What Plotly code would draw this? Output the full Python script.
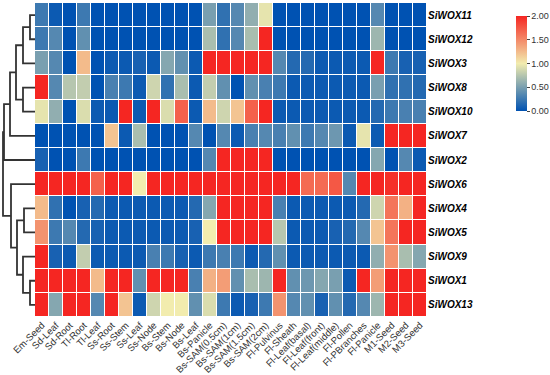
import plotly.graph_objects as go

tissues = ["Em-Seed", "Sd-Leaf", "Sd-Root", "Tl-Root", "Tl-Leaf", "Ss-Root", "Ss-Stem",
           "Ss-Leaf", "Ss-Node", "Bs-Stem", "Bs-Node", "Bs-Leaf", "Bs-Panicle",
           "Bs-SAM(0.5cm)", "Bs-SAM(1cm)", "Bs-SAM(1.5cm)", "Bs-SAM(2cm)", "Fl-Pulvinus",
           "Fl-Sheath", "Fl-Leaf(basal)", "Fl-Leaf(front)", "Fl-Leaf(middle)", "Fl-Pollen",
           "Fl-PBranches", "Fl-Panicle", "M1-Seed", "M2-Seed", "M3-Seed"]

genes = ["SiWOX11", "SiWOX12", "SiWOX3", "SiWOX8", "SiWOX10", "SiWOX7", "SiWOX2",
         "SiWOX6", "SiWOX4", "SiWOX5", "SiWOX9", "SiWOX1", "SiWOX13"]

wox11 = [0.25, 0.05, 0, 0.25, 0, 0, 0, 0, 0, 0, 0, 0, 0.5, 0.2,
         0.35, 0.6, 0.95, 0, 0, 0, 0, 0, 0, 0, 0.35, 0, 0, 0]
wox12 = [0.25, 0.35, 0, 0.4, 0, 0, 0, 0, 0, 0, 0, 0, 0.7, 0.2,
         0.35, 0.7, 2.0, 0, 0, 0, 0, 0, 0, 0, 0.65, 0, 0, 0]
wox3 = [0.5, 0.35, 0, 1.25, 0, 0.05, 0.05, 0.1, 0.05, 0.55, 0.4, 0.05, 2, 2,
        2, 2, 2, 0.35, 0.15, 0.15, 0.05, 0.05, 0.05, 0.05, 2, 0.25, 0.1, 0.1]
wox8 = [2, 0.35, 0.75, 0.8, 0, 0.3, 0.25, 0.05, 0.85, 0.2, 0.7, 0.05, 0.8, 0.4,
        0, 0.4, 0.3, 0.25, 0.05, 0.05, 0.05, 0.05, 0.05, 0.05, 0.5, 0.2, 0.2, 0.15]
wox10 = [0.95, 0.6, 0, 0.9, 0.05, 0.05, 2, 0.05, 2, 0.9, 1.7, 0.05, 1.25, 0.85,
         1.2, 1.7, 2, 0.05, 0.05, 0.05, 0.05, 0.05, 0.05, 0.05, 0.15, 0.25, 0.3, 0.3]
wox7 = [0, 0, 0, 0, 0, 1.2, 0.05, 0.7, 0, 0, 0, 0.35, 0, 0.35,
        0.05, 0.3, 0.35, 0.3, 0.4, 0.25, 0.35, 0.45, 0.05, 0.95, 0.05, 2, 2, 2]
wox2 = [0.1, 0, 0, 0.25, 0, 0, 0, 0, 0, 0, 0, 0, 0.35, 2,
        2, 2, 2, 0, 0, 0, 0, 0, 0, 0, 0.55, 0, 0.35, 0.05]
wox6 = [2, 2, 2, 2, 1.7, 2, 2, 1.0, 2, 2, 2, 2, 2, 2,
        2, 2, 2, 2, 2, 1.65, 1.65, 1.75, 0.35, 2, 2, 1.95, 2, 2]
wox4 = [1.25, 0.2, 0, 0.1, 0.15, 0.05, 0.05, 0.05, 0.05, 0.05, 0.05, 0.15, 0.55, 2,
        2, 2, 2, 0.3, 0.05, 0.05, 0.05, 0.05, 0.05, 0.15, 0.85, 1.6, 1.3, 2]
wox5 = [1.45, 0.25, 0.35, 0.15, 0.1, 0.05, 0.05, 0.05, 0.05, 0.05, 0.05, 0.1, 1.0, 2,
        2, 2, 2, 0.75, 0.05, 0.05, 0.05, 0.1, 0.15, 0.35, 1.2, 1.6, 2, 2]
wox9 = [2, 0.1, 0.05, 0.8, 0.05, 0.05, 0.05, 0.05, 0.3, 0.25, 0.1, 0.05, 0.25, 0.3,
        0.25, 0.05, 0.15, 0.4, 0.05, 0.05, 0.05, 0.05, 0.05, 0.05, 0.6, 1.45, 0.7, 0.55]
wox1 = [2, 2, 2, 2, 1.25, 2, 2, 0.4, 2, 2, 2, 0.3, 1.3, 1.4,
        0.4, 0.7, 0.65, 2, 0.4, 0.45, 0.55, 0.5, 0.05, 2, 1.4, 2, 2, 2]
wox13 = [2, 0.55, 2, 2, 0.35, 2, 1.2, 0.05, 0.85, 1.0, 1.0, 0.4, 0.9, 0.25,
         0.05, 0.1, 0.25, 1.45, 0.35, 0.4, 0.1, 0.4, 0.15, 0.35, 0.65, 2, 2, 2]

z = [wox11, wox12, wox3, wox8, wox10, wox7, wox2, wox6, wox4, wox5, wox9, wox1, wox13]

# Dendrogram merges: (child_a, child_b, height); leaves are row indices 0..12,
# each merge creates node 13, 14, ...
merges = [(0, 1, 5), (13, 2, 12), (3, 4, 12), (14, 15, 19), (16, 5, 25), (17, 6, 31),
          (8, 9, 11), (11, 12, 5), (10, 20, 12), (19, 21, 18), (7, 22, 24), (18, 23, 32)]

colorbar_ticks = [0, 0.5, 1.0, 1.5, 2.0]
zmin, zmax = 0, 2.0

W, H = 550, 375
hm_left, hm_right, hm_top, hm_bottom = 35, 427, 3, 317

# dendrogram coordinates
node_y = {i: float(i) for i in range(len(genes))}
node_h = {i: 0.0 for i in range(len(genes))}
dx, dy = [], []
for k, (a, b, h) in enumerate(merges):
    nid = len(genes) + k
    dx += [node_h[a], h, h, node_h[b], None]
    dy += [node_y[a], node_y[a], node_y[b], node_y[b], None]
    node_y[nid] = (node_y[a] + node_y[b]) / 2
    node_h[nid] = h

colorscale = [[0.0, "rgb(0,82,178)"], [0.5, "rgb(242,236,174)"], [1.0, "rgb(245,38,34)"]]

# keep the top tick just inside the bar range so plotly does not drop it
cb_tickvals = [min(v, zmax - 1e-4) for v in colorbar_ticks]
cb_ticktext = ["%.2f" % v for v in colorbar_ticks]

fig = go.Figure()
fig.add_trace(go.Heatmap(
    z=z, x=list(range(len(tissues))), y=list(range(len(genes))),
    zmin=zmin, zmax=zmax, colorscale=colorscale, xgap=1, ygap=1,
    colorbar=dict(x=516 / W, xanchor="left", y=1 - 63.5 / H, yanchor="middle",
                  len=95 / H, lenmode="fraction", thickness=11, xpad=0, ypad=0,
                  outlinewidth=0, tickvals=cb_tickvals, ticktext=cb_ticktext,
                  ticks="outside", ticklen=3, tickcolor="#444",
                  tickfont=dict(size=9, color="#333", family="Liberation Sans, Arial")),
))
fig.add_trace(go.Scatter(x=dx, y=dy, xaxis="x2", yaxis="y", mode="lines",
                         line=dict(color="#333333", width=1.8), hoverinfo="skip",
                         showlegend=False))

fig.update_layout(
    width=W, height=H, margin=dict(l=0, r=0, t=0, b=0),
    paper_bgcolor="white", plot_bgcolor="white", showlegend=False,
    font=dict(family="Liberation Sans, Arial"),
    xaxis=dict(domain=[hm_left / W, hm_right / W], range=[-0.5, len(tissues) - 0.5],
               tickvals=list(range(len(tissues))), ticktext=tissues, tickangle=-45,
               tickfont=dict(size=9.5, color="#333"), showgrid=False, zeroline=False,
               ticks="", automargin=False, anchor="y"),
    yaxis=dict(domain=[1 - hm_bottom / H, 1 - hm_top / H], range=[len(genes) - 0.5, -0.5],
               tickvals=list(range(len(genes))),
               ticktext=["<b><i>%s</i></b>" % g for g in genes], side="right",
               tickfont=dict(size=10, color="black"), showgrid=False, zeroline=False,
               ticks="", automargin=False, anchor="x"),
    xaxis2=dict(domain=[0, hm_left / W], range=[35, 0], visible=False, anchor="y",
                showgrid=False, zeroline=False),
)

fig.write_html("out.html", config={"displayModeBar": False},
               post_script="document.body.style.margin='0';document.body.style.overflow='hidden';")
